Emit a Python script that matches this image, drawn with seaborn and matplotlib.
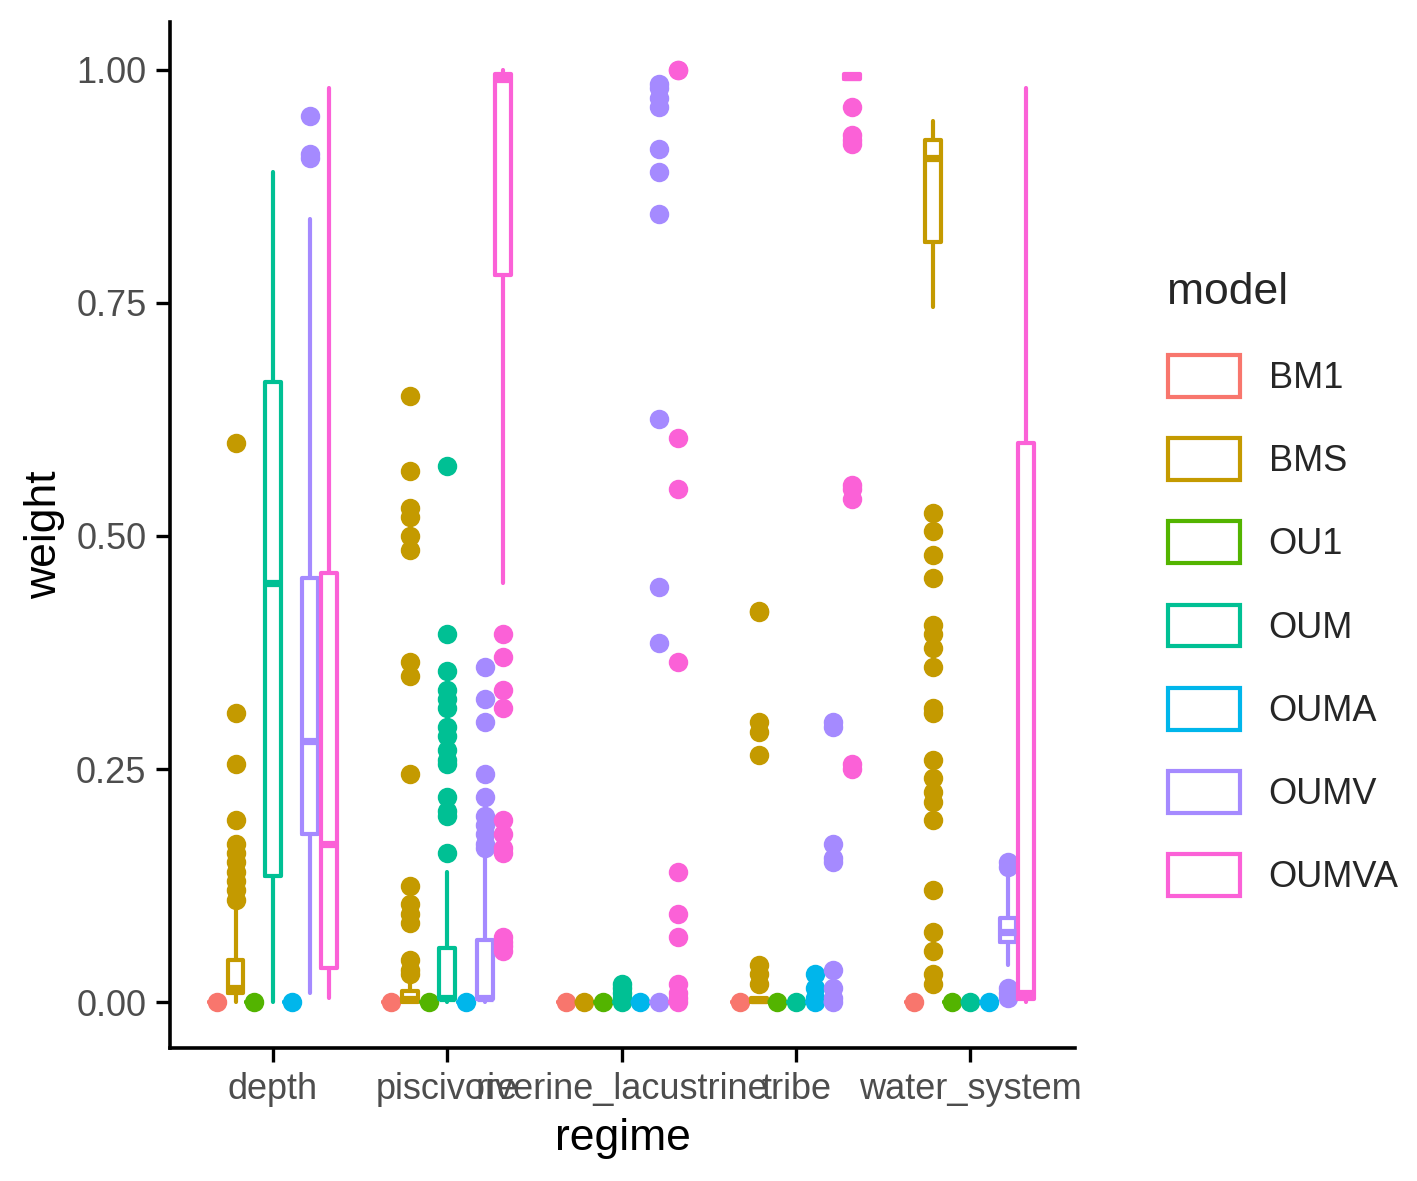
import numpy as np
import seaborn as sns
import matplotlib.pyplot as plt
from matplotlib.patches import Rectangle

regimes = ["depth", "piscivore", "riverine_lacustrine", "tribe", "water_system"]
models = ["BM1", "BMS", "OU1", "OUM", "OUMA", "OUMV", "OUMVA"]
colors = ["#F8766D", "#C49A00", "#53B400", "#00C094", "#00B6EB", "#A58AFF", "#FB61D7"]

# box stats per model, one value per regime
q1 = {"BM1": [0, 0, 0, 0, 0], "BMS": [0.01, 0, 0, 0, 0.815], "OU1": [0, 0, 0, 0, 0],
      "OUM": [0.135, 0.003, 0, 0, 0], "OUMA": [0, 0, 0, 0, 0],
      "OUMV": [0.18, 0.003, 0, 0, 0.065], "OUMVA": [0.037, 0.78, 0, 0.99, 0.003]}
med = {"BM1": [0, 0, 0, 0, 0], "BMS": [0.015, 0.003, 0, 0.002, 0.905], "OU1": [0, 0, 0, 0, 0],
       "OUM": [0.45, 0.005, 0, 0, 0], "OUMA": [0, 0, 0, 0, 0],
       "OUMV": [0.28, 0.005, 0, 0, 0.075], "OUMVA": [0.17, 0.99, 0, 0.992, 0.01]}
q3 = {"BM1": [0, 0, 0, 0, 0], "BMS": [0.045, 0.012, 0, 0.005, 0.925], "OU1": [0, 0, 0, 0, 0],
      "OUM": [0.665, 0.058, 0, 0, 0], "OUMA": [0, 0, 0, 0, 0],
      "OUMV": [0.455, 0.067, 0, 0, 0.09], "OUMVA": [0.46, 0.995, 0, 0.995, 0.6]}
lo = {"BM1": [0, 0, 0, 0, 0], "BMS": [0, 0, 0, 0, 0.745], "OU1": [0, 0, 0, 0, 0],
      "OUM": [0, 0, 0, 0, 0], "OUMA": [0, 0, 0, 0, 0],
      "OUMV": [0.01, 0, 0, 0, 0.04], "OUMVA": [0.005, 0.45, 0, 0.99, 0]}
hi = {"BM1": [0, 0, 0, 0, 0], "BMS": [0.105, 0.03, 0, 0.005, 0.945], "OU1": [0, 0, 0, 0, 0],
      "OUM": [0.89, 0.14, 0, 0, 0], "OUMA": [0, 0, 0, 0, 0],
      "OUMV": [0.84, 0.16, 0, 0, 0.135], "OUMVA": [0.98, 1.0, 0, 0.995, 0.98]}

fliers = {
    ("depth", "BMS"): [0.60, 0.31, 0.255, 0.195, 0.17, 0.16, 0.15, 0.14, 0.13, 0.12, 0.11],
    ("depth", "OUMV"): [0.95, 0.91, 0.905],
    ("piscivore", "BMS"): [0.65, 0.57, 0.53, 0.52, 0.50, 0.485, 0.365, 0.35, 0.245, 0.125,
                           0.105, 0.095, 0.085, 0.045, 0.035, 0.03],
    ("piscivore", "OUM"): [0.575, 0.395, 0.355, 0.335, 0.325, 0.315, 0.295, 0.285, 0.27,
                           0.26, 0.255, 0.22, 0.205, 0.2, 0.16],
    ("piscivore", "OUMV"): [0.36, 0.325, 0.30, 0.245, 0.22, 0.2, 0.19, 0.18, 0.17, 0.165],
    ("piscivore", "OUMVA"): [0.395, 0.37, 0.335, 0.315, 0.195, 0.18, 0.165, 0.16, 0.07,
                             0.065, 0.06, 0.055],
    ("riverine_lacustrine", "OUM"): [0.02, 0.015, 0.01, 0.005],
    ("riverine_lacustrine", "OUMV"): [0.985, 0.98, 0.97, 0.96, 0.915, 0.89, 0.845, 0.625,
                                      0.445, 0.385],
    ("riverine_lacustrine", "OUMVA"): [1.0, 1.0, 0.605, 0.55, 0.365, 0.14, 0.095, 0.07,
                                       0.02, 0.01, 0.005],
    ("tribe", "BMS"): [0.42, 0.418, 0.30, 0.29, 0.265, 0.04, 0.03, 0.02],
    ("tribe", "OUMA"): [0.03, 0.015, 0.005],
    ("tribe", "OUMV"): [0.3, 0.295, 0.17, 0.155, 0.15, 0.035, 0.015, 0.005],
    ("tribe", "OUMVA"): [0.96, 0.93, 0.925, 0.92, 0.555, 0.55, 0.54, 0.255, 0.25],
    ("water_system", "BMS"): [0.525, 0.505, 0.48, 0.455, 0.405, 0.395, 0.38, 0.36, 0.315,
                              0.31, 0.26, 0.24, 0.225, 0.215, 0.195, 0.12, 0.075, 0.055,
                              0.03, 0.02],
    ("water_system", "OUMV"): [0.15, 0.145, 0.015, 0.01, 0.005],
}

sns.set_theme(style="ticks")
plt.rcParams['font.family'] = ['Liberation Sans', 'DejaVu Sans']

fig = plt.figure(figsize=(1417 / 200, 1181 / 200), dpi=200)
ax = fig.add_axes([170 / 1417, 1 - 1048 / 1181, 905 / 1417, 1026 / 1181])

step = 0.75 / len(models)
for j, m in enumerate(models):
    stats = []
    pos = []
    for i, r in enumerate(regimes):
        stats.append(dict(med=med[m][i], q1=q1[m][i], q3=q3[m][i], whislo=lo[m][i],
                          whishi=hi[m][i], fliers=fliers.get((r, m), [])))
        pos.append(i + (j - 3) * step)
    c = colors[j]
    ax.bxp(stats, positions=pos, widths=step * 0.85, showcaps=False,
           boxprops=dict(color=c, lw=1.5), whiskerprops=dict(color=c, lw=1.5),
           medianprops=dict(color=c, lw=2.6),
           flierprops=dict(marker="o", markerfacecolor=c, markeredgecolor=c, markersize=6))
    for i, r in enumerate(regimes):
        if hi[m][i] == 0 and q3[m][i] == 0:
            ax.plot(pos[i], 0, "o", color=c, markersize=6)

ax.set_xlim(-0.59, 4.60)
ax.set_ylim(-0.049, 1.051)
ax.set_xticks(range(len(regimes)))
ax.set_xticklabels(regimes)
ax.set_yticks([0, 0.25, 0.5, 0.75, 1.0])
ax.set_yticklabels(["0.00", "0.25", "0.50", "0.75", "1.00"])
ax.tick_params(axis="both", labelsize=13, colors="black", labelcolor="#4D4D4D",
               width=1.2, length=5)
for s in ["left", "bottom"]:
    ax.spines[s].set_linewidth(1.3)
    ax.spines[s].set_color("black")
sns.despine(ax=ax)
ax.set_xlabel("regime", fontsize=16, color="black")
ax.set_ylabel("weight", fontsize=16, color="black")

handles = [Rectangle((0, 0), 1, 1, facecolor="white", edgecolor=c, lw=1.5) for c in colors]
leg = fig.legend(handles, models, title="model", loc="upper left",
                 bbox_to_anchor=(1135 / 1417, 1 - 240 / 1181), frameon=False,
                 fontsize=13, title_fontsize=16, handlelength=2.0, handleheight=1.4,
                 labelspacing=1.15, alignment="left")

fig.savefig("out.png", dpi=200)
